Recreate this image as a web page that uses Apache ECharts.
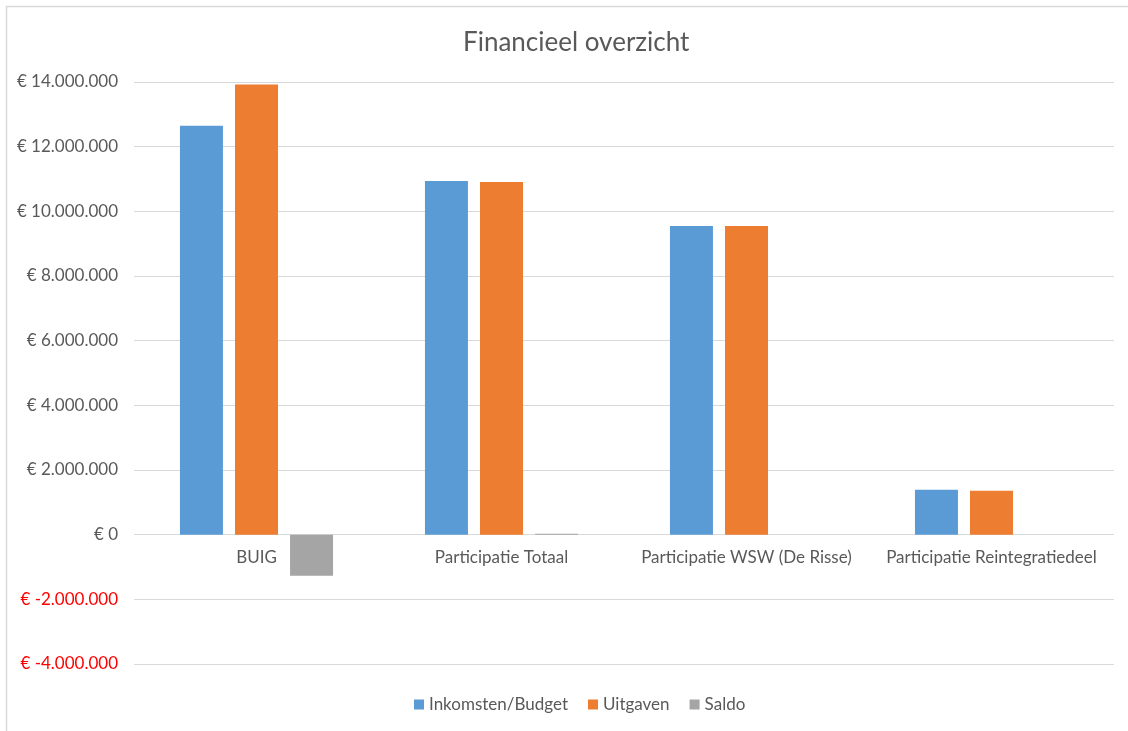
<!DOCTYPE html>
<html>
<head>
<meta charset="utf-8">
<script src="https://cdn.jsdelivr.net/npm/echarts@6/dist/echarts.min.js"></script>
<style>
html,body{margin:0;padding:0;background:#fff;}
#chart{width:1128px;height:731px;}
</style>
</head>
<body>
<div id="chart"></div>
<script>
const categories = ['BUIG', 'Participatie Totaal', 'Participatie WSW (De Risse)', 'Participatie Reintegratiedeel'];
const inkomsten = [12650000, 10940000, 9550000, 1390000];
const uitgaven = [13920000, 10910000, 9550000, 1360000];
const saldo = [-1270000, 30000, 0, 0];
const seriesNames = ['Inkomsten/Budget', 'Uitgaven', 'Saldo'];
const colors = ['#5b9bd5', '#ed7d31', '#a5a5a5'];

function fmtEuro(v) {
  const neg = v < 0;
  const s = Math.abs(v).toString().replace(/\B(?=(\d{3})+(?!\d))/g, '.');
  return '€ ' + (neg ? '-' : '') + s;
}

const chart = echarts.init(document.getElementById('chart'));
const font = 'Lato, "Open Sans", sans-serif';
chart.setOption({
  animation: false,
  textStyle: { fontFamily: font },
  title: {
    text: 'Financieel overzicht',
    left: 458,
    top: 25,
    textStyle: { fontFamily: font, fontSize: 26, fontWeight: 'normal', color: '#595959' }
  },
  graphic: [{
    type: 'rect',
    shape: { x: 6.5, y: 6.5, width: 1140, height: 740 },
    style: { fill: 'none', stroke: '#d9d9d9', lineWidth: 1.5 },
    silent: true
  }],
  legend: {
    data: seriesNames,
    bottom: 13,
    left: 409,
    itemWidth: 10,
    itemHeight: 10,
    itemGap: 20,
    itemStyle: { borderWidth: 0 },
    icon: 'rect',
    textStyle: { fontFamily: font, fontSize: 17, color: '#595959' }
  },
  grid: { left: 134, right: 14, top: 82, bottom: 67, containLabel: false },
  xAxis: {
    type: 'category',
    data: categories,
    offset: -130,
    axisLine: { show: false, onZero: false },
    axisTick: { show: false },
    axisLabel: { fontFamily: font, fontSize: 17, color: '#595959', margin: 15, interval: 0 },
    splitLine: { show: false }
  },
  yAxis: {
    type: 'value',
    min: -4000000,
    max: 14000000,
    interval: 2000000,
    axisLine: { show: false },
    axisTick: { show: false },
    splitLine: { lineStyle: { color: '#d9d9d9', width: 1 } },
    axisLabel: {
      fontFamily: font,
      fontSize: 17,
      margin: 16,
      formatter: function (v) {
        return v < 0 ? '{neg|' + fmtEuro(v) + '}' : '{pos|' + fmtEuro(v) + '}';
      },
      rich: {
        neg: { color: '#ff0000', fontFamily: font, fontSize: 17 },
        pos: { color: '#595959', fontFamily: font, fontSize: 17 }
      }
    }
  },
  series: [
    { name: seriesNames[0], type: 'bar', data: inkomsten, itemStyle: { color: colors[0] }, barWidth: 43, barGap: '28%' },
    { name: seriesNames[1], type: 'bar', data: uitgaven, itemStyle: { color: colors[1] }, barWidth: 43, barGap: '28%' },
    { name: seriesNames[2], type: 'bar', data: saldo, itemStyle: { color: colors[2] }, barWidth: 43, barGap: '28%' }
  ]
});
</script>
</body>
</html>
